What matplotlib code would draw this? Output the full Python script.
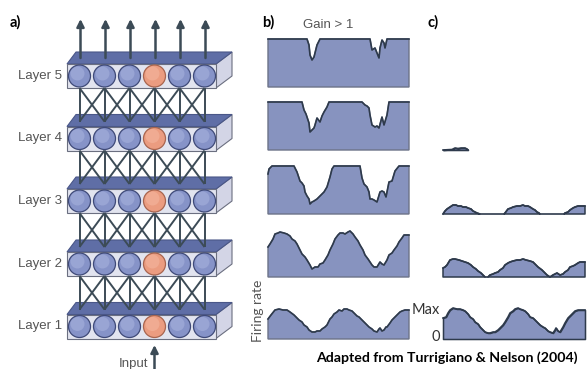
import numpy as np
import matplotlib.pyplot as plt
from matplotlib.patches import Polygon, Rectangle, Circle

W, H = 587, 369

layer_names = ['Layer 5', 'Layer 4', 'Layer 3', 'Layer 2', 'Layer 1']
n_units = 6
active_unit = 3
rate_ceiling = 48  # saturation rate, top of each trace box

# b) Gain > 1 : firing rate vs. stimulus position, one trace per layer (top = Layer 5)
hi_l5_pos = [0, 39, 41, 42, 44, 46, 47, 49, 51, 52, 102, 104, 107, 109, 111, 112, 114, 116, 117, 119, 141]
hi_l5_rate = [48, 48, 42, 32, 27, 30, 34, 42, 46, 48, 48, 37, 39, 34, 29, 39, 47, 44, 39, 48, 48]

hi_l4_pos = [0, 34, 36, 38, 39, 41, 42, 44, 46, 47, 49, 52, 54, 56, 59, 61, 94, 97, 99, 101,
             102, 104, 107, 109, 111, 114, 116, 119, 121, 141]
hi_l4_rate = [48, 48, 40, 36, 33, 27, 18, 20, 22, 25, 32, 28, 34, 38, 43, 48, 48, 45, 44, 42,
              35, 25, 23, 24, 22, 33, 25, 35, 48, 48]

hi_l3_pos = [0, 1, 4, 26, 29, 32, 34, 36, 37, 39, 41, 42, 44, 46, 49, 52, 54, 56, 59, 62,
             64, 66, 92, 94, 96, 99, 101, 102, 104, 106, 109, 112, 114, 116, 118, 121, 124, 127, 131, 141]
hi_l3_rate = [40, 45, 48, 48, 42, 33, 31, 28, 22, 18, 15, 10, 12, 13, 15, 18, 20, 22, 27, 37,
              45, 48, 48, 36, 30, 27, 22, 15, 15, 14, 12, 22, 23, 22, 17, 32, 33, 43, 48, 48]

hi_l2_pos = [0, 2, 5, 7, 10, 12, 16, 19, 22, 24, 27, 29, 32, 34, 37, 39, 42, 44, 47, 50,
             52, 55, 57, 60, 62, 65, 67, 70, 72, 75, 77, 80, 82, 85, 87, 90, 92, 95, 97, 100,
             102, 104, 106, 109, 112, 114, 116, 119, 121, 124, 126, 129, 131, 134, 136, 141]
hi_l2_rate = [30, 33, 38, 43, 44, 45, 44, 43, 41, 38, 36, 33, 27, 23, 20, 17, 12, 8, 10, 10,
              13, 14, 17, 22, 27, 33, 38, 42, 44, 44, 43, 45, 46, 43, 40, 36, 32, 27, 22, 18,
              15, 12, 10, 10, 15, 13, 12, 17, 22, 24, 27, 31, 35, 39, 42, 42]

hi_l1_pos = [0, 3, 7, 11, 15, 19, 22, 26, 29, 31, 34, 36, 39, 41, 44, 47, 49, 52, 54, 57,
             59, 62, 64, 66, 69, 71, 74, 76, 79, 81, 84, 86, 89, 91, 94, 96, 99, 101, 104, 106,
             109, 111, 112, 114, 116, 118, 119, 122, 124, 127, 129, 132, 134, 137, 141]
hi_l1_rate = [20, 24, 29, 30, 29, 29, 27, 24, 21, 19, 17, 14, 12, 9, 7, 7, 8, 8, 10, 12,
              14, 20, 22, 25, 27, 29, 28, 30, 30, 29, 28, 26, 23, 22, 19, 17, 14, 12, 10, 8,
              7, 10, 11, 8, 9, 12, 12, 16, 19, 22, 24, 27, 28, 29, 29]

# c) Gain < 1 : same layers, activity fades out going up
lo_l5_pos = []
lo_l5_rate = []

lo_l4_pos = [0, 5, 9, 12, 15, 18, 22, 24, 25]
lo_l4_rate = [0, 0.3, 0.5, 2, 1.5, 2, 2, 1, 0]

lo_l3_pos = [0, 2, 4, 7, 10, 13, 15, 18, 20, 23, 25, 28, 30, 32, 34, 37, 61, 62, 65, 68,
             70, 74, 77, 80, 82, 85, 87, 90, 92, 94, 96, 97, 121, 122, 125, 127, 130, 132, 135, 137, 142]
lo_l3_rate = [0, 3, 5, 7, 9, 9, 8, 8, 7, 7, 6, 5, 3, 2, 1, 0, 0, 1, 5, 6,
              7, 8, 8, 9, 8, 8, 7, 5, 4, 2, 1, 0, 0, 1, 2, 4, 6, 7, 8, 8, 8]

lo_l2_pos = [0, 2, 4, 7, 10, 12, 16, 19, 22, 25, 28, 30, 33, 35, 38, 40, 42, 45, 47, 50,
             52, 55, 57, 60, 62, 65, 67, 70, 74, 77, 80, 83, 87, 90, 92, 95, 99, 102, 104, 107,
             110, 112, 114, 117, 120, 122, 125, 127, 130, 132, 135, 137, 142]
lo_l2_rate = [9, 10, 12, 17, 18, 18, 17, 16, 15, 14, 12, 10, 8, 6, 4, 2, 0, 0, 2, 3,
              4, 5, 7, 9, 12, 14, 15, 16, 17, 17, 18, 17, 16, 15, 13, 10, 7, 4, 2, 0,
              2, 3, 4, 2, 3, 5, 7, 10, 11, 12, 14, 15, 15]

lo_l1_pos = [0, 3, 5, 7, 10, 14, 17, 20, 22, 25, 27, 30, 32, 35, 37, 40, 42, 45, 47, 50,
             52, 55, 57, 60, 62, 65, 67, 70, 72, 75, 77, 80, 82, 85, 87, 90, 92, 95, 97, 100,
             102, 105, 107, 110, 112, 113, 115, 117, 120, 122, 125, 127, 130, 132, 135, 142]
lo_l1_rate = [21, 22, 26, 29, 31, 30, 30, 29, 28, 25, 22, 20, 17, 15, 12, 9, 7, 6, 6, 7,
              7, 9, 11, 14, 17, 22, 26, 28, 30, 31, 30, 29, 28, 25, 22, 21, 19, 16, 14, 12,
              11, 8, 7, 6, 9, 11, 8, 7, 12, 16, 21, 23, 26, 28, 29, 29]

hi_traces = [(hi_l5_pos, hi_l5_rate), (hi_l4_pos, hi_l4_rate), (hi_l3_pos, hi_l3_rate),
             (hi_l2_pos, hi_l2_rate), (hi_l1_pos, hi_l1_rate)]
lo_traces = [(lo_l5_pos, lo_l5_rate), (lo_l4_pos, lo_l4_rate), (lo_l3_pos, lo_l3_rate),
             (lo_l2_pos, lo_l2_rate), (lo_l1_pos, lo_l1_rate)]

FILL = '#8793bf'
TRACE = '#2e3a4c'
WIRE = '#3c4b56'
GREY_TXT = '#555555'

fig = plt.figure(figsize=(W / 100, H / 100), dpi=100)
ax = fig.add_axes([0, 0, 1, 1])
ax.set_xlim(0, W)
ax.set_ylim(H, 0)
ax.axis('off')


def px_axes(x0, y0, x1, y1):
    a = fig.add_axes([x0 / W, 1 - y1 / H, (x1 - x0) / W, (y1 - y0) / H])
    a.axis('off')
    return a


# ---- a) layered network ----
face_l, face_r = 67, 216
layer_cy = [76, 138.5, 201, 264, 326.5]
unit_x = [79.5 + 25 * i for i in range(n_units)]

for name, cy in zip(layer_names, layer_cy):
    top, bot = cy - 12, cy + 12
    ax.add_patch(Polygon([(face_r, top), (face_r + 16, top - 12), (face_r + 16, bot - 12), (face_r, bot)],
                         closed=True, fc='#d3d5e6', ec='#6b6f80', lw=0.8, zorder=2))
    ax.add_patch(Polygon([(face_l, top), (face_l + 9, top - 12), (face_r + 16, top - 12), (face_r, top)],
                         closed=True, fc='#5f6ea6', ec='#4a5788', lw=0.8, zorder=2))
    ax.add_patch(Rectangle((face_l, top), face_r - face_l, 24, fc='#e2e4ef', ec='#6b6f80', lw=0.8, zorder=3))
    for i, ux in enumerate(unit_x):
        if i == active_unit:
            base, light, edge = '#eb9c80', '#f6bba4', '#a8654f'
        else:
            base, light, edge = '#8693c8', '#adb7e0', '#3f4a78'
        ax.add_patch(Circle((ux, cy), 11, fc=base, ec='none', zorder=4))
        ax.add_patch(Circle((ux - 2, cy - 2.5), 7, fc=light, ec='none', alpha=0.5, zorder=4))
        ax.add_patch(Circle((ux, cy), 11, fc='none', ec=edge, lw=0.9, zorder=5))
    ax.text(62, cy, name, ha='right', va='center', fontsize=9.5, color=GREY_TXT,
            family='Liberation Sans')

# feed-forward connections between neighbouring layers
for upper, lower in zip(layer_cy[:-1], layer_cy[1:]):
    y_start = upper + 12
    y_end = lower - 12 - 5
    for i, ux in enumerate(unit_x):
        for j in (i - 1, i, i + 1):
            if 0 <= j < n_units:
                ax.plot([ux, unit_x[j]], [y_start, y_end], color=WIRE, lw=1.4,
                        solid_capstyle='butt', zorder=6)

# output arrows from the top layer
for ux in unit_x:
    ax.annotate('', xy=(ux + 1, 19), xytext=(ux + 1, layer_cy[0] - 18),
                arrowprops=dict(arrowstyle='-|>', color=WIRE, lw=1.8, mutation_scale=11,
                                shrinkA=0, shrinkB=0), zorder=6)

# input arrow into the active unit of layer 1
ax.annotate('', xy=(unit_x[active_unit], 345), xytext=(unit_x[active_unit], 372),
            arrowprops=dict(arrowstyle='-|>', color=WIRE, lw=1.8, mutation_scale=11,
                            shrinkA=0, shrinkB=0), zorder=6)
ax.text(148, 364, 'Input', ha='right', va='center', fontsize=9.5, color=GREY_TXT,
        family='Liberation Sans')

# ---- b) and c) firing-rate traces ----
row_bottom = [87, 150, 214, 277, 339]
box_h = 48


def draw_trace(a, pos, rate, xmax, boxed):
    a.set_xlim(0, xmax)
    a.set_ylim(0, rate_ceiling)
    if len(pos) == 0:
        return
    pos = np.asarray(pos, float)
    rate = np.asarray(rate, float)
    if boxed:
        xs = np.concatenate([[pos[0]], pos, [pos[-1]]])
        ys = np.concatenate([[0], rate, [0]])
        a.fill(xs, ys, fc=FILL, ec='#6c7388', lw=1.0, clip_on=False)
        a.plot(pos, rate, color=TRACE, lw=1.2, clip_on=False)
    else:
        on = rate > 0
        a.fill_between(pos, 0, rate, where=rate > 0, interpolate=True, fc=FILL,
                       ec=TRACE, lw=1.1, clip_on=False)
        keep = on | np.r_[on[1:], False] | np.r_[False, on[:-1]]
        a.plot(pos, np.ma.masked_where(~keep, rate), color=TRACE, lw=1.2, clip_on=False)


for (pos, rate), yb in zip(hi_traces, row_bottom):
    draw_trace(px_axes(268, yb - box_h, 409, yb), pos, rate, 141, True)

for (pos, rate), yb in zip(lo_traces, row_bottom):
    draw_trace(px_axes(443, yb - box_h, 585, yb), pos, rate, 142, False)

# ---- labels ----
ax.text(10, 22, 'a)', ha='left', va='center', fontsize=10.5, fontweight='bold', family='Lato')
ax.text(262, 22, 'b)', ha='left', va='center', fontsize=10.5, fontweight='bold', family='Lato')
ax.text(428, 22, 'c)', ha='left', va='center', fontsize=10.5, fontweight='bold', family='Lato')
ax.text(328, 25, 'Gain > 1', ha='center', va='center', fontsize=9.5, color=GREY_TXT,
        family='Liberation Sans')
ax.text(258, 311, 'Firing rate', ha='center', va='center', rotation=90, fontsize=10,
        color=GREY_TXT, family='Lato')
ax.text(412, 310, 'Max', ha='left', va='center', fontsize=10.5, color='#333333', family='Lato')
ax.text(436, 337, '0', ha='center', va='center', fontsize=10.5, color='#333333', family='Lato')
ax.text(578, 358, 'Adapted from Turrigiano & Nelson (2004)', ha='right', va='center',
        fontsize=10.2, fontweight='bold', family='Lato')

fig.savefig('out.png', dpi=100)
